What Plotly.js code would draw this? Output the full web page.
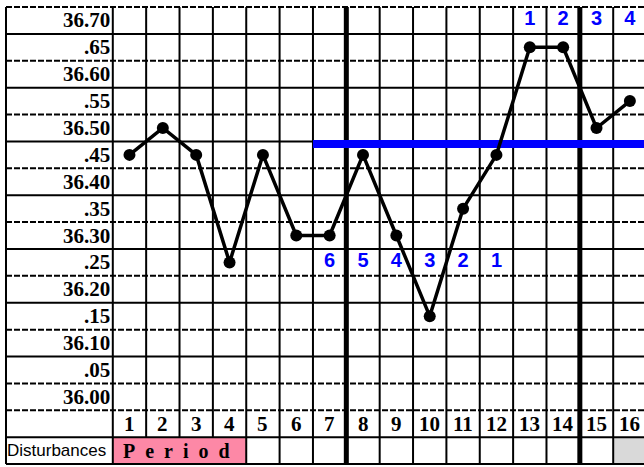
<!DOCTYPE html>
<html>
<head>
<meta charset="utf-8">
<script src="https://cdn.plot.ly/plotly-3.0.1.min.js"></script>
<style>html,body{margin:0;padding:0;background:#fff;}#chart{width:644px;height:467px;}</style>
</head>
<body>
<div id="chart"></div>
<script>
// ---- data ----
const days = [1,2,3,4,5,6,7,8,9,10,11,12,13,14,15,16];
const temps = [36.45,36.50,36.45,36.25,36.45,36.30,36.30,36.45,36.30,36.15,36.35,36.45,36.65,36.65,36.50,36.55];
const tempLabels = ["36.70",".65","36.60",".55","36.50",".45","36.40",".35","36.30",".25","36.20",".15","36.10",".05","36.00"];
const tempLabelValues = [36.70,36.65,36.60,36.55,36.50,36.45,36.40,36.35,36.30,36.25,36.20,36.15,36.10,36.05,36.00];
const coverLine = 36.47;
const coverStartDay = 7;
const countDownDays = [7,8,9,10,11,12];
const countDownLabels = ["6","5","4","3","2","1"];
const countDownLevel = 36.25;
const countUpDays = [13,14,15,16];
const countUpLabels = ["1","2","3","4"];
const countUpLevel = 36.70;
const dayLabels = ["1","2","3","4","5","6","7","8","9","10","11","12","13","14","15","16"];
const disturbanceTitle = "Disturbances";
const periodText = "Period";
const periodDays = [1,4];
const greyDays = [16];

// ---- layout geometry ----
const STEP = 0.05;
const Y_TOP = 36.725;
const NUMROW = 35.95, DISTROW = 35.90;
const Y_DISTTOP = 35.925, Y_BOT = 35.875;
const X_LEFT = -2.7014, X_RIGHT = 17.5;
const thickAfter = [7,14];

const shapes = [];
shapes.push({type:'rect', layer:'below', xref:'x', yref:'y', x0:periodDays[0]-0.5, x1:periodDays[1]+0.5, y0:Y_BOT, y1:Y_DISTTOP, fillcolor:'#fd88a6', line:{width:0}});
greyDays.forEach(d => shapes.push({type:'rect', layer:'below', xref:'x', yref:'y', x0:d-0.5, x1:d+0.5, y0:Y_BOT, y1:Y_DISTTOP, fillcolor:'#d9d9d9', line:{width:0}}));
for (let k = 0; k <= 17; k++) {
  const v = Y_TOP - STEP*k;
  const dashed = (k <= 15) && (k % 2 === 0 || k === 15);
  shapes.push({type:'line', layer:'below', xref:'x', yref:'y', x0:X_LEFT, x1:X_RIGHT, y0:v, y1:v,
    line:{color:'#000', width:2, dash: dashed ? '6px,2px' : 'solid'}});
}
for (let k = 0; k <= 16; k++) {
  const x = k + 0.5;
  const insidePeriod = k >= periodDays[0] && k < periodDays[1];
  shapes.push({type:'line', layer:'below', xref:'x', yref:'y', x0:x, x1:x, y0:Y_TOP, y1: insidePeriod ? Y_DISTTOP : Y_BOT,
    line:{color:'#000', width: thickAfter.includes(k) ? 5 : 2}});
}
shapes.push({type:'line', layer:'below', xref:'x', yref:'y', x0:X_LEFT, x1:X_LEFT, y0:Y_TOP, y1:Y_BOT, line:{color:'#000', width:2}});

const serifBold = {family:'"Liberation Serif", "Times New Roman", serif', size:21, color:'#000', weight:700};
const annotations = [];
tempLabels.forEach((t,i) => annotations.push({x:0.5, y:tempLabelValues[i], xref:'x', yref:'y', text:t, showarrow:false, xanchor:'right', yanchor:'middle', xshift:-1, font:serifBold}));
dayLabels.forEach((t,i) => annotations.push({x:days[i], y:NUMROW, xref:'x', yref:'y', text:t, showarrow:false, xanchor:'center', yanchor:'middle', font:serifBold}));
annotations.push({x:X_LEFT, y:DISTROW, xref:'x', yref:'y', text:disturbanceTitle, showarrow:false, xanchor:'left', yanchor:'middle', xshift:-1,
  font:{family:'"Liberation Sans", Arial, sans-serif', size:17, color:'#000'}});
annotations.push({x:(periodDays[0]+periodDays[1])/2, y:DISTROW, xref:'x', yref:'y', text:periodText.split('').join('\u2002'), showarrow:false, xanchor:'center', yanchor:'middle', xshift:-3, font:{family:serifBold.family, size:20, color:'#000', weight:700}});

const blueFont = {family:'"Liberation Sans", Arial, sans-serif', size:20, color:'#0000ff', weight:700};

const traces = [
  {x:[coverStartDay-0.5, X_RIGHT], y:[coverLine, coverLine], mode:'lines', line:{color:'#0000ff', width:8}, hoverinfo:'skip', showlegend:false},
  {x:days, y:temps, mode:'lines+markers', line:{color:'#000', width:3.5}, marker:{color:'#000', size:12}, showlegend:false},
  {x:countDownDays, y:countDownDays.map(()=>countDownLevel), mode:'text', text:countDownLabels, textposition:'middle center', textfont:blueFont, showlegend:false, hoverinfo:'skip'},
  {x:countUpDays, y:countUpDays.map(()=>countUpLevel), mode:'text', text:countUpLabels, textposition:'middle center', textfont:blueFont, showlegend:false, hoverinfo:'skip'}
];

const layout = {
  width:644, height:467,
  margin:{l:0,r:0,t:0,b:0,pad:0},
  paper_bgcolor:'#fff', plot_bgcolor:'#fff',
  xaxis:{range:[-2.8813,16.4233], showgrid:false, zeroline:false, showticklabels:false, showline:false, ticks:'', fixedrange:true},
  yaxis:{range:[35.86955,36.73802], showgrid:false, zeroline:false, showticklabels:false, showline:false, ticks:'', fixedrange:true},
  shapes:shapes,
  annotations:annotations,
  showlegend:false
};

Plotly.newPlot('chart', traces, layout, {staticPlot:true, displayModeBar:false});
</script>
</body>
</html>
